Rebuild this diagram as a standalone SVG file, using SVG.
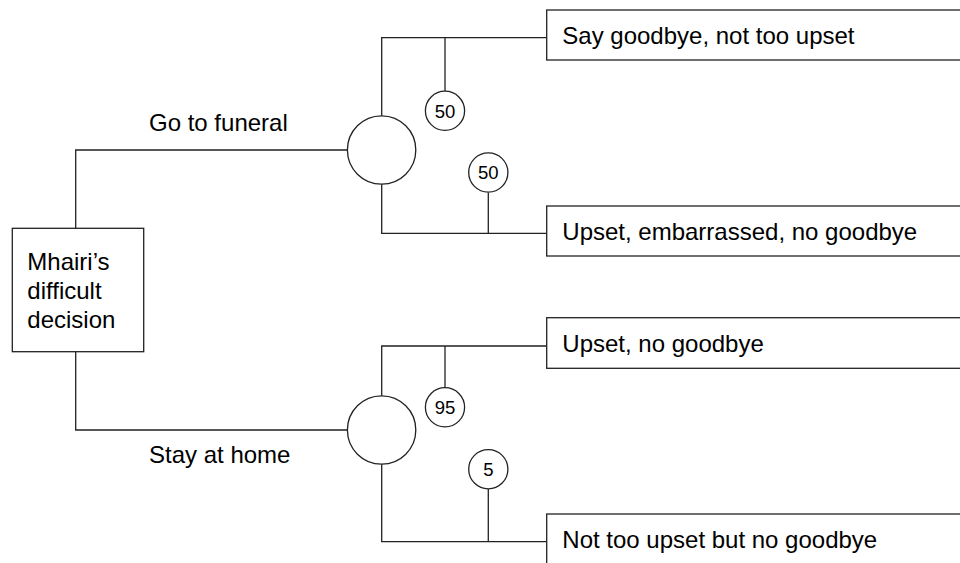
<svg xmlns="http://www.w3.org/2000/svg" width="960" height="563" viewBox="0 0 960 563">
<style>
.ln{fill:none;stroke:#222;stroke-width:1.3}
.bx{fill:#fff;stroke:#222;stroke-width:1.3}
.t{font-family:"Liberation Sans",Arial,sans-serif;font-size:24px;fill:#000}
.p{font-family:"Liberation Sans",Arial,sans-serif;font-size:18.5px;fill:#000;text-anchor:middle}
</style>
<rect width="960" height="563" fill="#fff"/>
<g id="connectors">
<polyline class="ln" points="75.7,228.3 75.7,150 347.5,150"/>
<polyline class="ln" points="75.7,352 75.7,430 347.5,430"/>
<polyline class="ln" points="381.7,116 381.7,37.7 546.7,37.7"/>
<polyline class="ln" points="381.7,184 381.7,233.3 546.7,233.3"/>
<line class="ln" x1="445" y1="37.7" x2="445" y2="91"/>
<line class="ln" x1="488.3" y1="192.7" x2="488.3" y2="233.3"/>
<polyline class="ln" points="381.7,396 381.7,346 546.7,346"/>
<polyline class="ln" points="381.7,464 381.7,541.7 546.7,541.7"/>
<line class="ln" x1="445" y1="346" x2="445" y2="387.7"/>
<line class="ln" x1="488.3" y1="489" x2="488.3" y2="541.7"/>
</g>
<g id="decision">
<rect class="bx" x="12.3" y="228.3" width="131.4" height="123.4"/>
<text class="t" x="27.3" y="269.5">Mhairi’s</text>
<text class="t" x="27.3" y="298.8">difficult</text>
<text class="t" x="27.3" y="327.7">decision</text>
</g>
<g id="label-funeral"><text class="t" x="149" y="131">Go to funeral</text></g>
<g id="label-home"><text class="t" x="149" y="463.3">Stay at home</text></g>
<g id="chance1"><circle class="bx" cx="381.6" cy="150" r="34.2"/></g>
<g id="chance2"><circle class="bx" cx="381.6" cy="430" r="34.2"/></g>
<g id="p1"><circle class="bx" cx="445" cy="110.8" r="19.6"/><text class="p" x="445" y="117.5">50</text></g>
<g id="p2"><circle class="bx" cx="488.3" cy="172.5" r="19.6"/><text class="p" x="488.3" y="179.2">50</text></g>
<g id="p3"><circle class="bx" cx="445" cy="407.3" r="19.6"/><text class="p" x="445" y="414">95</text></g>
<g id="p4"><circle class="bx" cx="488.3" cy="469.2" r="19.6"/><text class="p" x="488.3" y="475.9">5</text></g>
<g id="out1"><rect class="bx" x="546.7" y="10" width="440" height="50"/><text class="t" x="562.3" y="44.3">Say goodbye, not too upset</text></g>
<g id="out2"><rect class="bx" x="546.7" y="206" width="440" height="50"/><text class="t" x="562.3" y="240">Upset, embarrassed, no goodbye</text></g>
<g id="out3"><rect class="bx" x="546.7" y="317.7" width="440" height="50.6"/><text class="t" x="562.3" y="351.7">Upset, no goodbye</text></g>
<g id="out4"><rect class="bx" x="546.7" y="514" width="440" height="60"/><text class="t" x="562.3" y="547.7">Not too upset but no goodbye</text></g>
</svg>
